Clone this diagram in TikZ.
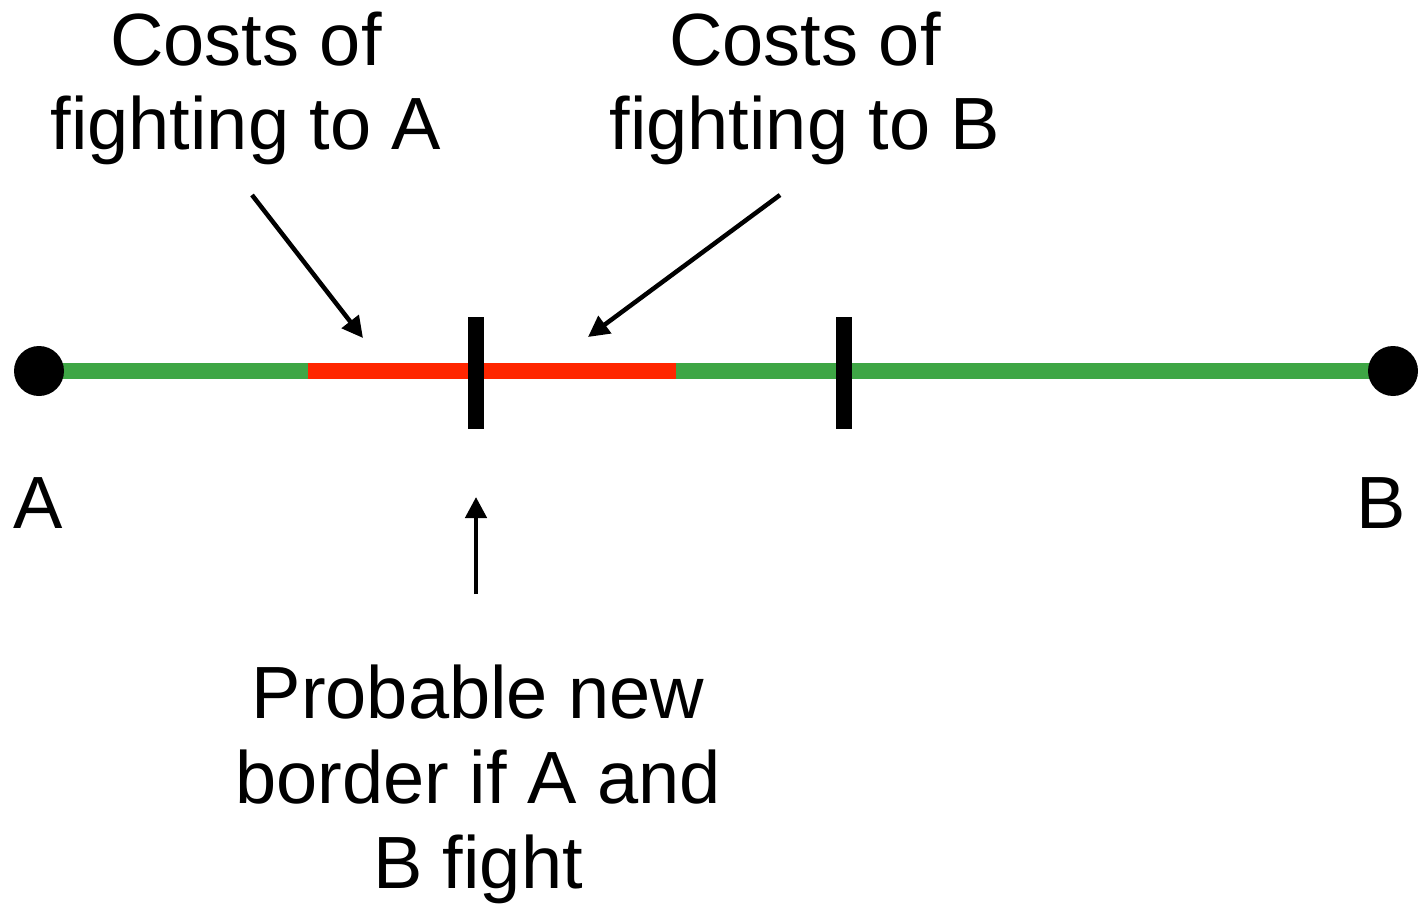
\documentclass[tikz,border=0pt]{standalone}
\usepackage{fontspec}
\setmainfont{Liberation Sans}
\usetikzlibrary{arrows.meta}
\definecolor{lgreen}{RGB}{62,166,69}
\definecolor{lred}{RGB}{255,38,0}
\tikzset{
  lbl/.style={font=\fontsize{74}{85}\selectfont, inner sep=0pt, align=center},
  dot/.style={circle, fill=black, minimum size=50pt, inner sep=0pt},
  tick/.style={fill=black, minimum width=16pt, minimum height=112pt, inner sep=0pt},
  arr/.style={line width=4.5pt, -{Triangle[length=21pt,width=21pt]}},
  seg/.style={line width=16pt}
}
\begin{document}
\begin{tikzpicture}[x=1pt,y=-1pt]
\useasboundingbox (0,0) rectangle (1420,904);
\coordinate (gL) at (39,371);
\coordinate (gR) at (1393,371);
\coordinate (rL) at (308,371);
\coordinate (rR) at (676,371);
\draw[seg, lgreen] (gL) -- (gR);
\draw[seg, lred] (rL) -- (rR);
\node[dot] (dA) at (39,371) {};
\node[dot] (dB) at (1393,371) {};
\node[tick] (t1) at (476,373) {};
\node[tick] (t2) at (844,373) {};
\node[lbl, anchor=base] (cA) at (246,150) {Costs of\\fighting to A};
\node[lbl, anchor=base] (cB) at (805,150) {Costs of\\fighting to B};
\node[lbl, anchor=base] (lA) at (38,528) {A};
\node[lbl, anchor=base] (lB) at (1381,528) {B};
\node[lbl, anchor=base] (pb) at (478,888) {Probable new\\border if A and\\B fight};
\coordinate (a1s) at (252,195);
\coordinate (a1e) at (363,338);
\coordinate (a2s) at (780,195);
\coordinate (a2e) at (588,337);
\coordinate (a3s) at (476,594);
\coordinate (a3e) at (476,497);
\draw[arr] (a1s) -- (a1e);
\draw[arr] (a2s) -- (a2e);
\draw[arr] (a3s) -- (a3e);
\end{tikzpicture}
\end{document}
